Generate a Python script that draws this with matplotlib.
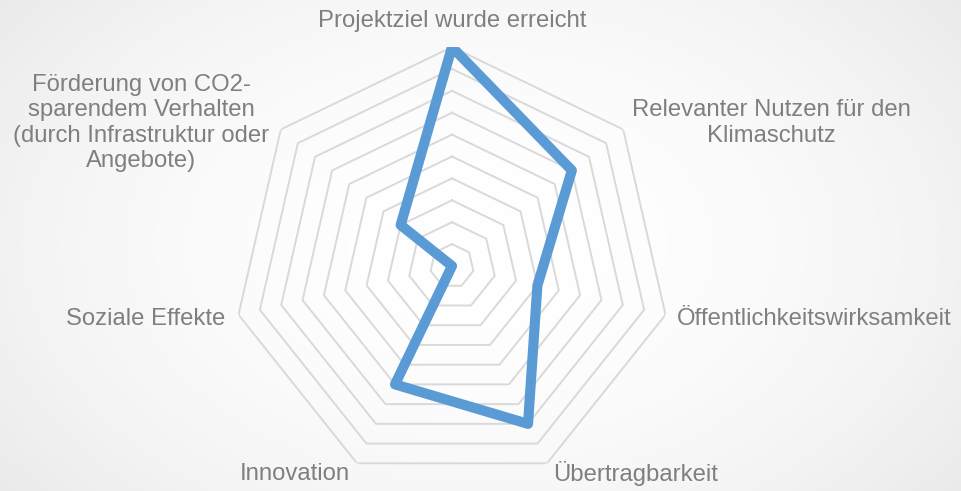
import numpy as np
import matplotlib.pyplot as plt

plt.rcParams['font.family'] = ['Liberation Sans', 'DejaVu Sans']

categories = ['Projektziel wurde erreicht',
              'Relevanter Nutzen für den\nKlimaschutz',
              'Öffentlichkeitswirksamkeit',
              'Übertragbarkeit',
              'Innovation',
              'Soziale Effekte',
              'Förderung von CO2-\nsparendem Verhalten\n(durch Infrastruktur oder\nAngebote)']
values = [10, 7, 4, 8, 6, 0, 3]
grid_levels = list(range(1, 11))

W, H = 961, 491
fig = plt.figure(figsize=(W / 100, H / 100), dpi=100)

# faint radial background shading
bg = fig.add_axes([0, 0, 1, 1])
yy, xx = np.mgrid[0:H, 0:W]
d = np.sqrt(((xx - 480) / 600.0) ** 2 + ((yy - 245) / 400.0) ** 2)
shade = 1 - 0.08 * np.clip(d, 0, 1) ** 2
bg.imshow(np.dstack([shade] * 3), extent=[0, 1, 0, 1], aspect='auto')
bg.axis('off')

cx, cy, R = 452, 266, 219
ax = fig.add_axes([(cx - R) / W, (H - cy - R) / H, 2 * R / W, 2 * R / H],
                  projection='polar')
ax.set_theta_offset(np.pi / 2)
ax.set_theta_direction(-1)
ax.set_ylim(0, 10)
ax.axis('off')

n = len(categories)
ang = np.linspace(0, 2 * np.pi, n, endpoint=False)
ang_c = np.append(ang, ang[0])

for lv in grid_levels:
    ax.plot(ang_c, [lv] * (n + 1), color='#d9d9d9', lw=1.4, zorder=1)

ax.plot(ang_c, values + values[:1], color='#5b9bd5', lw=7.3,
        solid_joinstyle='round', solid_capstyle='round', zorder=3)

# category labels (pixel positions as in the original layout)
label_pos = [(452, 21, 'center'), (771, 123, 'center'), (677, 319, 'left'),
             (553, 474, 'left'), (350, 474, 'right'), (225, 319, 'right'),
             (141, 123, 'center')]
for txt, (x, y, ha) in zip(categories, label_pos):
    fig.text(x / W, 1 - y / H, txt, ha=ha, va='center', fontsize=17.2,
             color='#7f7f7f', multialignment='center', linespacing=1.2)

fig.savefig('out.png', dpi=100)
